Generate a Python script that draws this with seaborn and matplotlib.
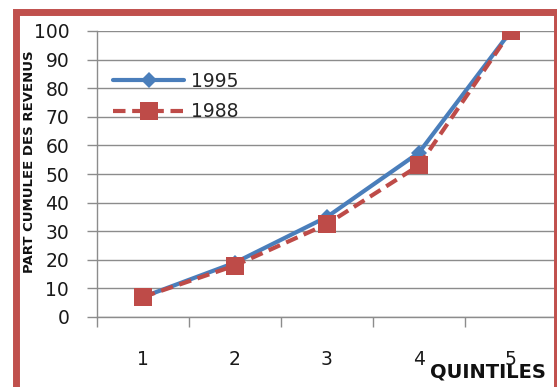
import matplotlib
matplotlib.use("Agg")
import matplotlib.pyplot as plt
from matplotlib.patches import Rectangle
import seaborn as sns
import pandas as pd

# Cumulative income share by quintile
quintiles = [1, 2, 3, 4, 5]
share_1995 = [7, 19, 35, 57.5, 100]
share_1988 = [7, 18, 32.5, 53, 100]
series_names = ["1995", "1988"]
y_ticks = [0, 10, 20, 30, 40, 50, 60, 70, 80, 90, 100]

df = pd.DataFrame({
    "quintile": quintiles * 2,
    "share": share_1995 + share_1988,
    "year": [series_names[0]] * 5 + [series_names[1]] * 5,
})

sns.set_style("white")
plt.rcParams["font.family"] = ["DejaVu Sans"]

W, H = 557, 387
fig = plt.figure(figsize=(W / 100, H / 100), dpi=100)

def px_box(x0, y_top, x1, y_bot):
    return [x0 / W, 1 - y_bot / H, (x1 - x0) / W, (y_bot - y_top) / H]

ax = fig.add_axes(px_box(97, 31, 557, 317))

blue = "#4A7EBB"
red = "#BE4B48"
grid = "#8C8C8C"

sns.lineplot(data=df[df.year == "1995"], x="quintile", y="share", ax=ax,
             color=blue, lw=3, marker="D", markersize=8, markeredgewidth=0,
             label="1995", zorder=3)
sns.lineplot(data=df[df.year == "1988"], x="quintile", y="share", ax=ax,
             color=red, lw=3, marker="s", markersize=13, markeredgewidth=0,
             dashes=(3, 1.6), label="1988", zorder=4)

ax.set_xlim(0.5, 5.5)
ax.set_ylim(0, 100)
ax.set_yticks(y_ticks)
ax.set_xticks(quintiles)
ax.set_xticks([0.5, 1.5, 2.5, 3.5, 4.5, 5.5], minor=True)
ax.set_xlabel("")
ax.set_ylabel("")

ax.yaxis.grid(True, color=grid, lw=1)
ax.xaxis.grid(False)
for s in ["top", "right"]:
    ax.spines[s].set_visible(False)
for s in ["left", "bottom"]:
    ax.spines[s].set_color(grid)
    ax.spines[s].set_linewidth(1)

ax.tick_params(axis="y", which="major", length=7, width=1, color=grid,
               direction="out", left=True, pad=13, labelsize=13.5, labelcolor="#1a1a1a")
ax.tick_params(axis="x", which="major", length=0, pad=24, labelsize=13.5,
               labelcolor="#1a1a1a")
ax.tick_params(axis="x", which="minor", length=7, width=1, color=grid,
               direction="out", bottom=True)

leg = ax.legend(loc="upper left", bbox_to_anchor=((113 - 97) / 460, 1 - (72 - 31) / 286),
                frameon=False, fontsize=13.5, handlelength=3.8, handletextpad=0.35,
                borderpad=0, borderaxespad=0, labelspacing=0.6)

fig.text(30 / W, 1 - 162 / H, "PART CUMULEE DES REVENUS", rotation=90,
         ha="center", va="center", fontsize=9.5, fontweight="bold", color="#111")
fig.text(488 / W, 1 - 372 / H, "QUINTILES", ha="center", va="center",
         fontsize=14, fontweight="bold", color="#111")

# Red frame around the chart
fig.patches.append(Rectangle((15.5 / W, 1 - 389 / H), (556.5 - 15.5) / W, (389 - 11.5) / H,
                             transform=fig.transFigure, fill=False,
                             edgecolor="#C0504D", lw=5, zorder=10))

fig.savefig("out.png", dpi=100, facecolor="white")
